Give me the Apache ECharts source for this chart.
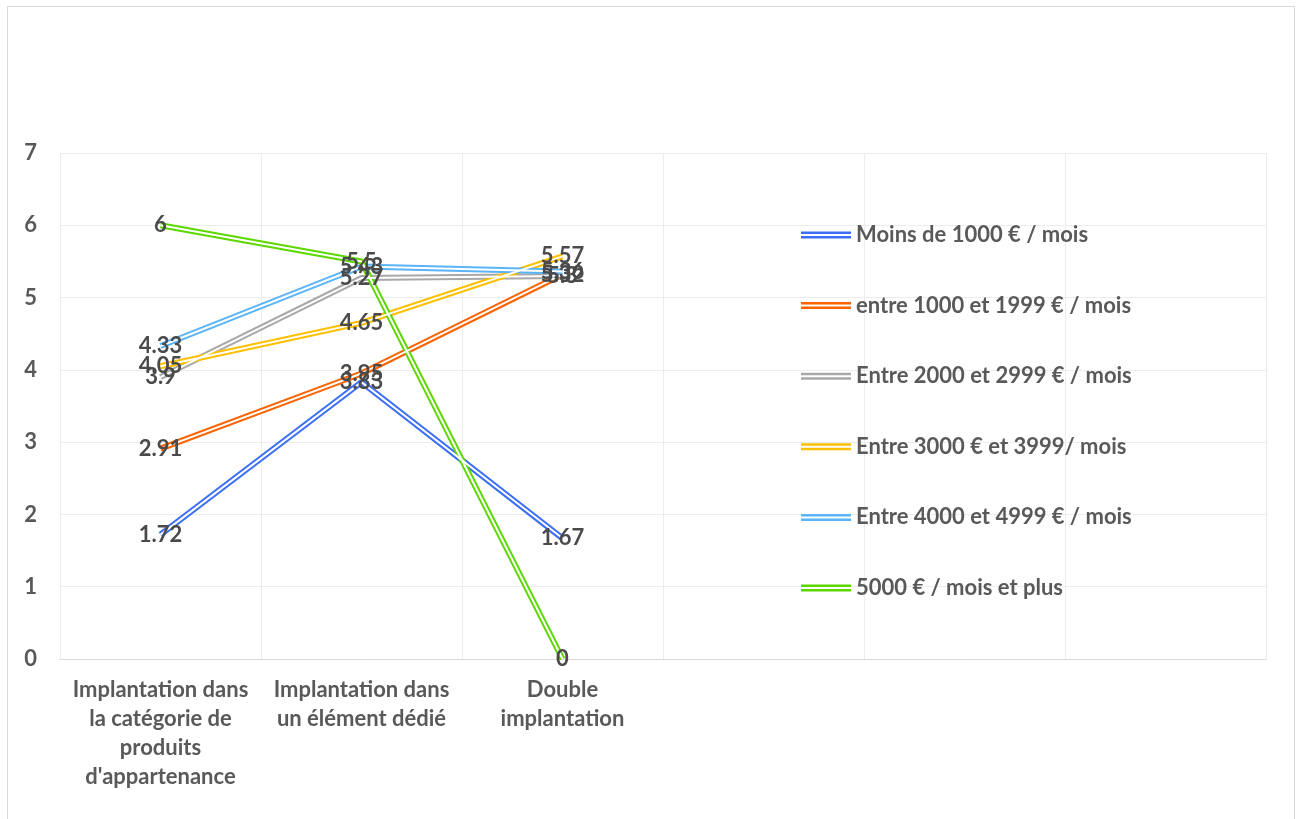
<!DOCTYPE html>
<html><head><meta charset="utf-8">
<script src="https://cdn.jsdelivr.net/npm/echarts@6/dist/echarts.min.js"></script>
<style>html,body{margin:0;padding:0;background:#fff}#c{width:1300px;height:819px}</style>
</head><body><div id="c"></div>
<script>
const categories = [
  "Implantation dans\nla catégorie de\nproduits\nd'appartenance",
  "Implantation dans\nun élément dédié",
  "Double\nimplantation",
  "", "", ""
];
const seriesNames = [
  "Moins de 1000 € / mois",
  "entre 1000 et 1999 € / mois",
  "Entre 2000 et 2999 € / mois",
  "Entre 3000 € et 3999/ mois",
  "Entre 4000 et 4999 € / mois",
  "5000 € / mois et plus"
];
const moins1000 = [1.72, 3.83, 1.67];
const entre1000 = [2.91, 3.95, 5.32];
const entre2000 = [3.9, 5.27, 5.3];
const entre3000 = [4.05, 4.65, 5.57];
const entre4000 = [4.33, 5.43, 5.36];
const plus5000 = [6, 5.5, 0];
const yTicks = [0, 1, 2, 3, 4, 5, 6, 7];

const values = [moins1000, entre1000, entre2000, entre3000, entre4000, plus5000];
const colors = ["#3A6EF5", "#FA6400", "#A8A8A8", "#FFC000", "#5AB4F8", "#5CD800"];
const FONT = "Lato";
const FS = 22;

const series = [];
values.forEach((d, i) => {
  series.push({
    name: seriesNames[i], type: 'line', data: d, z: 2,
    symbol: 'none', color: colors[i],
    lineStyle: { width: 6, color: colors[i] }, animation: false
  });
  series.push({
    name: seriesNames[i] + ' ', type: 'line', data: d, z: 3,
    symbol: 'none', lineStyle: { width: 2, color: '#ffffff' }, animation: false, silent: true
  });
});
values.forEach((d, i) => {
  series.push({
    name: seriesNames[i] + '  ', type: 'line', data: d, z: 5,
    symbol: 'circle', symbolSize: 2, showSymbol: true,
    itemStyle: { color: 'rgba(0,0,0,0)' }, lineStyle: { width: 0, color: 'rgba(0,0,0,0)' }, animation: false,
    label: { show: true, position: 'inside', color: '#4a4a4a', fontFamily: FONT,
      fontWeight: 'bold', fontSize: FS }
  });
});

const chart = echarts.init(document.getElementById('c'));
chart.setOption({
  animation: false,
  graphic: [{ type: 'rect', shape: { x: 7.5, y: 6.5, width: 1287, height: 830 },
    style: { fill: 'none', stroke: '#d9d9d9', lineWidth: 1 }, silent: true }],
  grid: { left: 60, right: 34, top: 153, bottom: 160 },
  legend: {
    data: seriesNames, orient: 'vertical', left: 796, top: 219,
    itemWidth: 50, itemHeight: 7, itemGap: 48.6,
    icon: 'path://M0,0H50V2.5H0Z M0,4.5H50V7H0Z',
    textStyle: { color: '#595959', fontFamily: FONT, fontWeight: 'bold', fontSize: FS, lineHeight: 22 }
  },
  xAxis: {
    type: 'category', data: categories, boundaryGap: true,
    axisLine: { lineStyle: { color: '#d9d9d9' } },
    axisTick: { show: false },
    splitLine: { show: true, lineStyle: { color: '#ececec' } },
    axisLabel: { interval: 0, color: '#595959', fontFamily: FONT, fontWeight: 'bold',
      fontSize: FS, lineHeight: 29, margin: 16 }
  },
  yAxis: {
    type: 'value', min: 0, max: 7, interval: 1,
    axisLine: { show: false }, axisTick: { show: false },
    splitLine: { lineStyle: { color: '#ececec' } },
    axisLabel: { color: '#595959', fontFamily: FONT, fontWeight: 'bold', fontSize: FS, margin: 23,
      formatter: v => yTicks.includes(v) ? String(v) : '' }
  },
  series: series
});
</script></body></html>
